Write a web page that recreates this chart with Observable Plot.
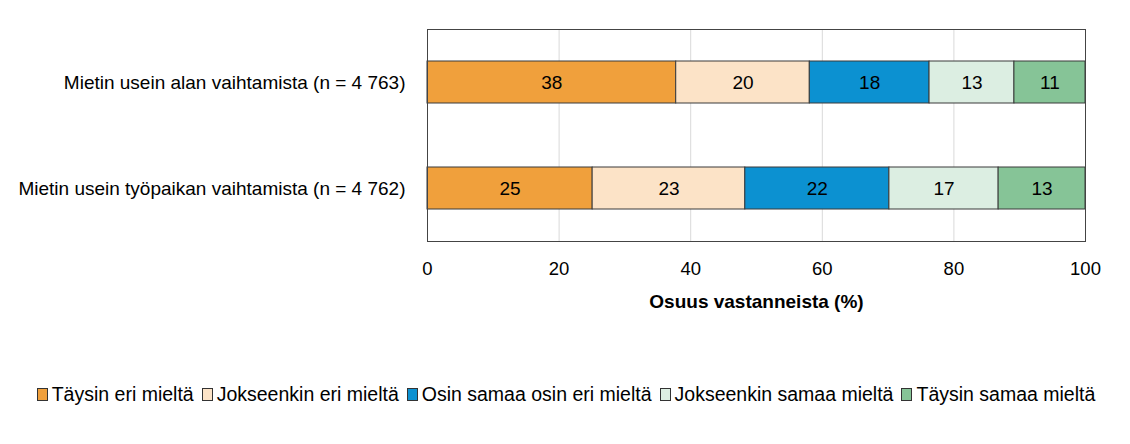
<!DOCTYPE html>
<html>
<head>
<meta charset="utf-8">
<script src="https://cdn.jsdelivr.net/npm/d3@7"></script>
<script src="https://cdn.jsdelivr.net/npm/@observablehq/plot@0.6"></script>
<style>
  body { margin: 0; background: #fff; font-family: "Liberation Sans", Arial, sans-serif; }
  #chart { width: 1130px; }
  .legend { display: flex; justify-content: center; align-items: center; font-size: 19.5px; color: #000; margin-top: 48px; padding-left: 2px; }
  .legend span.item { display: inline-flex; align-items: center; margin: 0 4px; }
  .legend span.sw { display: inline-block; width: 9px; height: 11px; border: 1px solid #333; margin-right: 4px; }
</style>
</head>
<body>
<div id="chart"></div>
<script>
const questions = [
  "Mietin usein alan vaihtamista (n = 4 763)",
  "Mietin usein työpaikan vaihtamista (n = 4 762)"
];
const categories = [
  "Täysin eri mieltä",
  "Jokseenkin eri mieltä",
  "Osin samaa osin eri mieltä",
  "Jokseenkin samaa mieltä",
  "Täysin samaa mieltä"
];
const colors = ["#F0A03C", "#FCE3C7", "#0C91D1", "#DCEEE2", "#86C497"];
const valuesAla = [37.8, 20.3, 18.2, 12.9, 10.8];
const valuesTyopaikka = [25.1, 23.2, 21.9, 16.6, 13.2];
const labelsAla = [38, 20, 18, 13, 11];
const labelsTyopaikka = [25, 23, 22, 17, 13];
const xTicks = [0, 20, 40, 60, 80, 100];

const rows = [];
[[valuesAla, labelsAla], [valuesTyopaikka, labelsTyopaikka]].forEach(([vals, labs], qi) => {
  vals.forEach((v, ci) => rows.push({question: questions[qi], category: categories[ci], value: v, label: labs[ci], order: ci}));
});

const chart = Plot.plot({
  width: 1130,
  height: 335,
  marginLeft: 427,
  marginRight: 45,
  marginTop: 29,
  marginBottom: 94,
  style: {fontFamily: "'Liberation Sans', Arial, sans-serif", fontSize: "18px", color: "#000", background: "#fff"},
  x: {domain: [0, 100], ticks: xTicks, label: null},
  y: {domain: questions, padding: 0, label: null},
  color: {domain: categories, range: colors},
  marks: [
    Plot.gridX(xTicks.slice(1, -1), {stroke: "#d9d9d9", strokeOpacity: 1, strokeWidth: 1}),
    Plot.barX(rows, Plot.stackX({x: "value", y: "question", fill: "category", order: "order", stroke: "#3a3a3a", strokeWidth: 1, insetTop: 32, insetBottom: 32})),
    Plot.text(rows, Plot.stackX({x: "value", y: "question", text: "label", order: "order", fill: "#000", fontSize: 19})),
    Plot.frame({stroke: "#444", strokeWidth: 1}),
    Plot.axisX({ticks: xTicks, tickSize: 0, tickPadding: 20, fontSize: 18.5, label: "Osuus vastanneista (%)", labelAnchor: "center", labelOffset: 66, labelArrow: "none"}),
    Plot.axisY({tickSize: 0, tickPadding: 22, fontSize: 19, label: null})
  ]
});
chart.querySelectorAll('[aria-label="x-axis label"] text').forEach(t => { t.setAttribute("font-weight", "bold"); t.setAttribute("font-size", "19"); });
chart.querySelectorAll('[aria-label="x-axis label"]').forEach(g => { g.setAttribute("font-weight", "bold"); g.setAttribute("font-size", "19"); });
document.getElementById("chart").appendChild(chart);

const legend = document.createElement("div");
legend.className = "legend";
categories.forEach((c, i) => {
  const item = document.createElement("span");
  item.className = "item";
  const sw = document.createElement("span");
  sw.className = "sw";
  sw.style.background = colors[i];
  item.appendChild(sw);
  item.appendChild(document.createTextNode(c));
  legend.appendChild(item);
});
document.getElementById("chart").appendChild(legend);
</script>
</body>
</html>
